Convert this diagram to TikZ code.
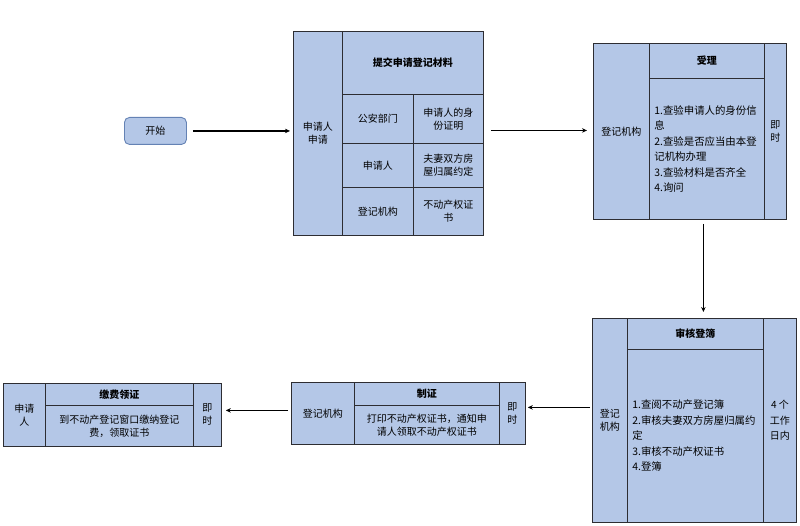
\documentclass[tikz,border=0pt]{standalone}
\usepackage{fontspec}
\setmainfont{Noto Sans CJK SC}
\usetikzlibrary{arrows.meta}
\definecolor{boxfill}{RGB}{180,199,231}
\definecolor{linec}{RGB}{45,45,50}
\definecolor{startline}{RGB}{100,130,180}
\begin{document}
\begin{tikzpicture}[x=1pt,y=-1pt,
  cell/.style={draw=linec, line width=0.8pt, fill=boxfill, anchor=north west, inner sep=0pt, align=center, font=\fontsize{10}{13}\selectfont},
  head/.style={cell, font=\fontsize{10}{13}\selectfont\bfseries},
  body/.style={cell, align=left, font=\fontsize{10.4}{15.5}\selectfont},
  arr/.style={-{Stealth[length=5pt,width=4.5pt]}, line width=1.5pt, black}]
\useasboundingbox (0,0) rectangle (800,526);

% start
\node[draw=startline, line width=0.9pt, fill=boxfill, rounded corners=5pt, minimum width=62pt, minimum height=27pt, inner sep=0pt, anchor=north west, font=\fontsize{10}{13}\selectfont] (start) at (124,117) {开始};

% box 1
\node[cell, minimum width=49pt, minimum height=204pt] (b1l) at (293,31) {申请人\\申请};
\node[head, minimum width=141pt, minimum height=63pt] (b1h) at (342,31) {提交申请登记材料};
\node[cell, minimum width=71pt, minimum height=49pt] (b1a1) at (342,94) {公安部门};
\node[cell, minimum width=70pt, minimum height=49pt] (b1a2) at (413,94) {申请人的身\\份证明};
\node[cell, minimum width=71pt, minimum height=44pt] (b1b1) at (342,143) {申请人};
\node[cell, minimum width=70pt, minimum height=44pt] (b1b2) at (413,143) {夫妻双方房\\屋归属约定};
\node[cell, minimum width=71pt, minimum height=48pt] (b1c1) at (342,187) {登记机构};
\node[cell, minimum width=70pt, minimum height=48pt] (b1c2) at (413,187) {不动产权证\\书};

% box 2
\node[cell, minimum width=56pt, minimum height=176pt] (b2l) at (593,43) {登记机构};
\node[head, minimum width=115pt, minimum height=35pt] (b2h) at (649,43) {受理};
\node[body, minimum width=115pt, minimum height=141pt, text width=105pt] (b2b) at (649,78) {1.查验申请人的身份信\\息\\2.查验是否应当由本登\\记机构办理\\3.查验材料是否齐全\\4.询问};
\node[cell, minimum width=22pt, minimum height=176pt] (b2r) at (764,43) {即\\时};

% box 3
\node[cell, minimum width=35pt, minimum height=204pt] (b3l) at (592,318) {登记\\机构};
\node[head, minimum width=136pt, minimum height=31pt] (b3h) at (627,318) {审核登簿};
\node[body, minimum width=136pt, minimum height=173pt, text width=126pt] (b3b) at (627,349) {1.查阅不动产登记簿\\2.审核夫妻双方房屋归属约\\定\\3.审核不动产权证书\\4.登簿};
\node[cell, minimum width=33pt, minimum height=204pt, font=\fontsize{10}{15.5}\selectfont] (b3r) at (763,318) {4 个\\工作\\日内};

% box 4
\node[cell, minimum width=63pt, minimum height=62pt] (b4l) at (291,382) {登记机构};
\node[head, minimum width=145pt, minimum height=23pt] (b4h) at (354,382) {制证};
\node[cell, minimum width=145pt, minimum height=39pt] (b4b) at (354,405) {打印不动产权证书，通知申\\请人领取不动产权证书};
\node[cell, minimum width=26pt, minimum height=62pt] (b4r) at (499,382) {即\\时};

% box 5
\node[cell, minimum width=42pt, minimum height=63pt] (b5l) at (3,383) {申请\\人};
\node[head, minimum width=148pt, minimum height=22pt] (b5h) at (45,383) {缴费领证};
\node[cell, minimum width=148pt, minimum height=41pt] (b5b) at (45,405) {到不动产登记窗口缴纳登记\\费，领取证书};
\node[cell, minimum width=28pt, minimum height=63pt] (b5r) at (193,383) {即\\时};

% connectors
\draw[arr, shorten <=6pt, shorten >=3pt] (start.east) -- (start.east -| b1l.west);
\draw[arr, shorten <=7pt, shorten >=6pt] ([yshift=0.5pt]start.east -| b1h.east) -- ([yshift=0.5pt]start.east -| b2l.west);
\draw[arr, shorten <=4pt, shorten >=6pt] ([xshift=-3.5pt]b2b.south) -- ([xshift=-3.5pt]b2b.south |- b3h.north);
\draw[arr, shorten <=2pt, shorten >=2pt] ([yshift=6pt]b4r.east -| b3l.west) -- ([yshift=6pt]b4r.east);
\draw[arr, shorten <=3pt, shorten >=4pt] ([yshift=3pt]b4l.west) -- ([yshift=3pt]b4l.west -| b5r.east);
\end{tikzpicture}
\end{document}
